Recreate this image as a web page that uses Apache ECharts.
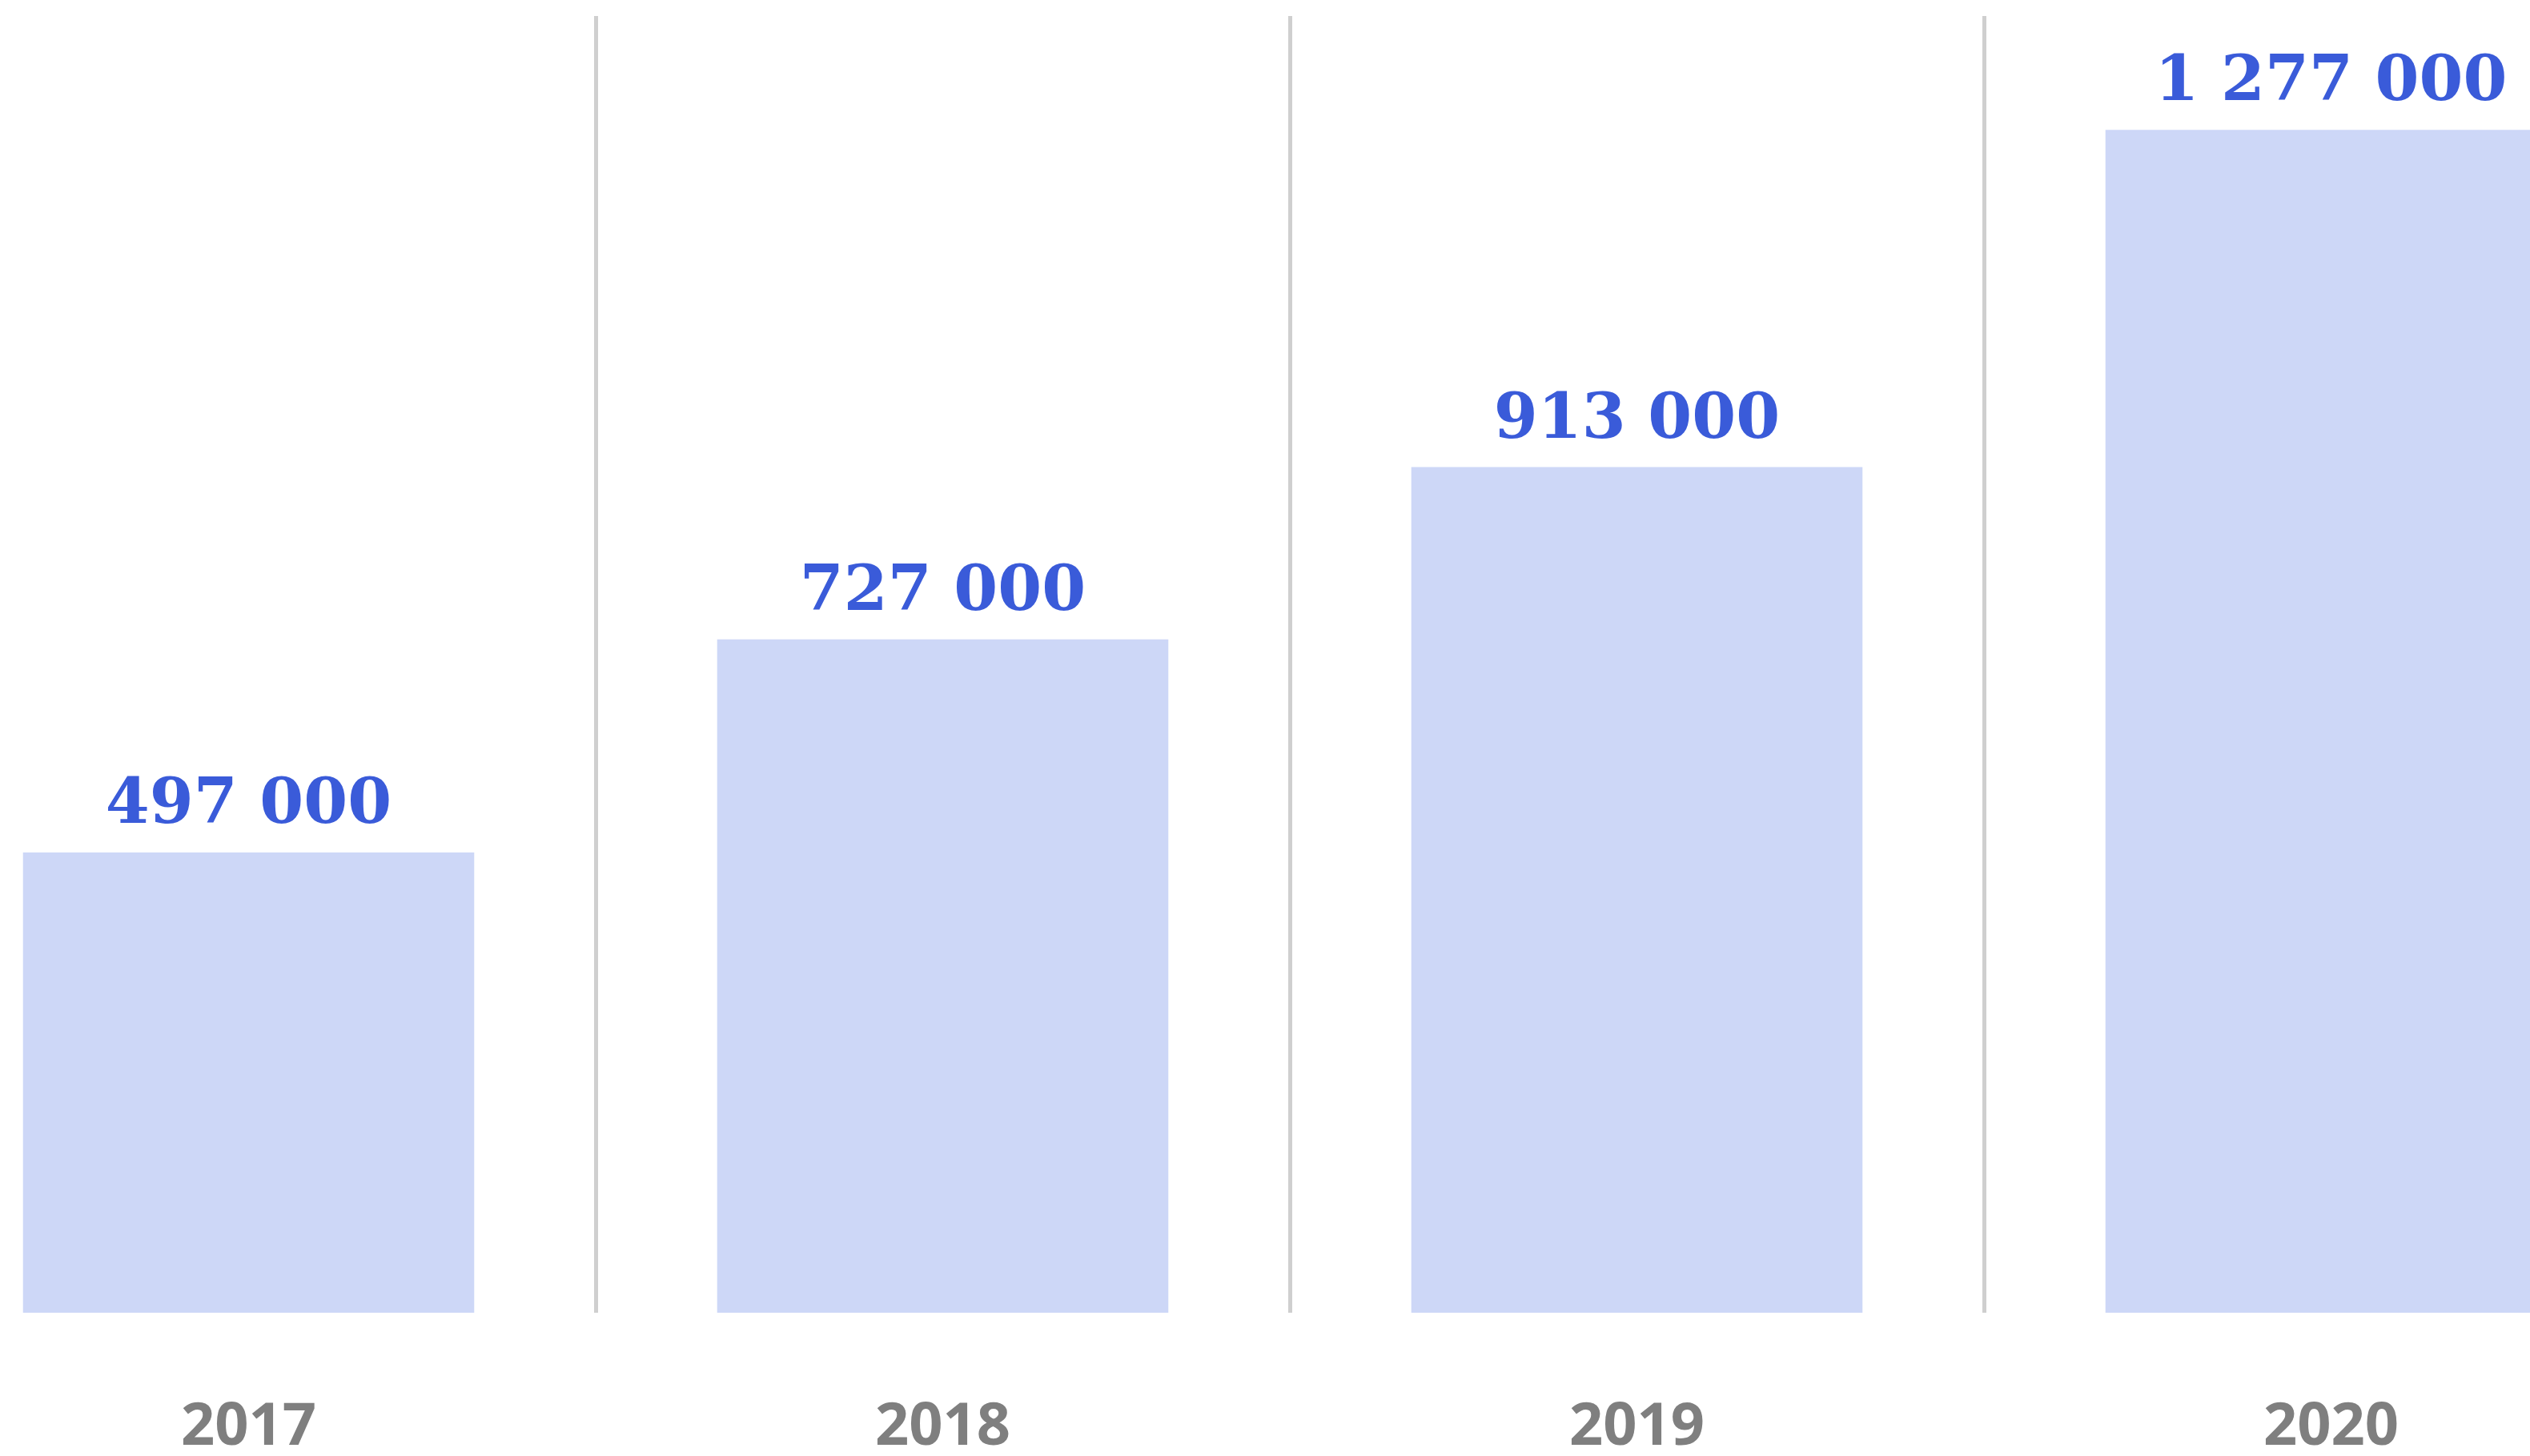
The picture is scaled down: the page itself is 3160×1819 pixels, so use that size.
<!DOCTYPE html>
<html>
<head>
<meta charset="utf-8">
<script src="https://cdn.jsdelivr.net/npm/echarts@6/dist/echarts.min.js"></script>
<style>
html,body{margin:0;padding:0;background:#fff;overflow:hidden;}
#chart{width:3160px;height:1819px;}
</style>
</head>
<body>
<div id="chart"></div>
<script>
var categories = ['2017', '2018', '2019', '2020'];
var values = [497000, 727000, 913000, 1277000];

function fmt(v) {
  return String(v).replace(/\B(?=(\d{3})+(?!\d))/g, ' ');
}

var chart = echarts.init(document.getElementById('chart'));
chart.setOption({
  backgroundColor: '#ffffff',
  animation: false,
  grid: { left: -123, right: -185, top: 20, bottom: 179, containLabel: false, outerBoundsMode: 'none' },
  xAxis: {
    type: 'category',
    data: categories,
    boundaryGap: true,
    axisLine: { show: false },
    axisTick: { show: false },
    axisLabel: {
      margin: 107,
      color: '#7f7f7f',
      fontFamily: 'Open Sans',
      fontWeight: 'bold',
      fontSize: 74
    },
    splitLine: {
      show: true,
      interval: 0,
      lineStyle: { color: '#cfcfcf', width: 5 }
    }
  },
  yAxis: {
    type: 'value',
    min: 0,
    max: 1400000,
    show: false,
    splitLine: { show: false }
  },
  series: [{
    type: 'bar',
    data: values,
    barWidth: '65%',
    itemStyle: { color: '#cdd7f7' },
    label: {
      show: true,
      position: 'top',
      distance: 18,
      color: '#3a5bd9',
      fontFamily: 'DejaVu Serif',
      fontWeight: 'bold',
      fontSize: 79,
      formatter: function (p) { return fmt(p.value); }
    }
  }]
});
</script>
</body>
</html>
